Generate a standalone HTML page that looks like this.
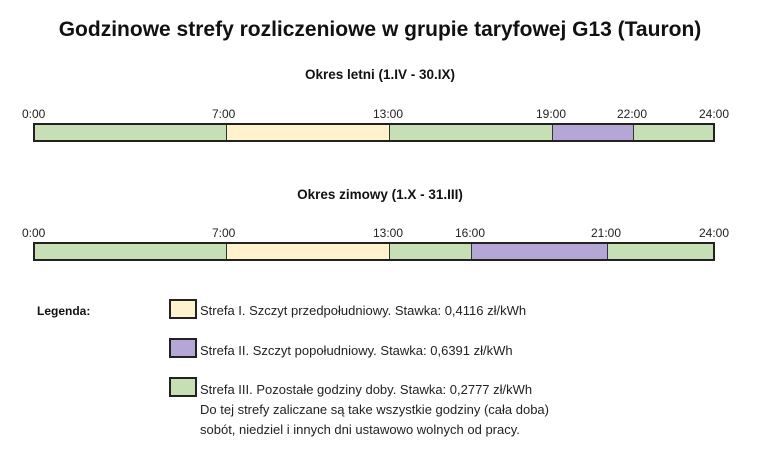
<!DOCTYPE html>
<html><head><meta charset="utf-8"><style>
body{margin:0;width:760px;height:459px;background:#fff;font-family:"Liberation Sans",sans-serif;position:relative;overflow:hidden;color:#111}
.a{position:absolute;white-space:nowrap}
.bar{position:absolute;height:19px;border:2px solid #222;box-sizing:border-box;display:flex;left:33px;width:682px}
.bar div{height:100%;border-right:1px solid #333;box-sizing:border-box}
.bar div:last-child{border-right:none}
.g{background:#c6dfb4}.y{background:#fff2cc}.p{background:#b4a7d6}
.t{font-size:12px;color:#222}
.sq{position:absolute;left:169px;width:28px;height:20px;border:2px solid #222;box-sizing:border-box}
.lt{font-size:13px;color:#222;left:200px}
</style></head><body>
<div class="a" style="left:0;width:760px;text-align:center;top:18px;font-size:21px;font-weight:bold">Godzinowe strefy rozliczeniowe w grupie taryfowej G13 (Tauron)</div>
<div class="a" style="left:0;width:760px;text-align:center;top:67px;font-size:13.5px;font-weight:bold">Okres letni (1.IV - 30.IX)</div>
<div class="a t" style="left:22px;top:107px">0:00</div>
<div class="a t" style="left:212px;top:107px">7:00</div>
<div class="a t" style="left:373px;top:107px">13:00</div>
<div class="a t" style="left:536px;top:107px">19:00</div>
<div class="a t" style="left:617px;top:107px">22:00</div>
<div class="a t" style="left:699px;top:107px">24:00</div>
<div class="bar" style="top:123px"><div class="g" style="width:192px"></div><div class="y" style="width:163px"></div><div class="g" style="width:163px"></div><div class="p" style="width:81px"></div><div class="g" style="flex:1"></div></div>
<div class="a" style="left:0;width:760px;text-align:center;top:187px;font-size:13.5px;font-weight:bold">Okres zimowy (1.X - 31.III)</div>
<div class="a t" style="left:22px;top:226px">0:00</div>
<div class="a t" style="left:212px;top:226px">7:00</div>
<div class="a t" style="left:373px;top:226px">13:00</div>
<div class="a t" style="left:455px;top:226px">16:00</div>
<div class="a t" style="left:591px;top:226px">21:00</div>
<div class="a t" style="left:699px;top:226px">24:00</div>
<div class="bar" style="top:242px"><div class="g" style="width:192px"></div><div class="y" style="width:163px"></div><div class="g" style="width:82px"></div><div class="p" style="width:136px"></div><div class="g" style="flex:1"></div></div>
<div class="a" style="left:37px;top:304px;font-size:12px;font-weight:bold">Legenda:</div>
<div class="sq y" style="top:299px"></div>
<div class="a lt" style="top:303px">Strefa I. Szczyt przedpołudniowy. Stawka: 0,4116 zł/kWh</div>
<div class="sq p" style="top:338px"></div>
<div class="a lt" style="top:343px">Strefa II. Szczyt popołudniowy. Stawka: 0,6391 zł/kWh</div>
<div class="sq g" style="top:377px"></div>
<div class="a lt" style="top:380px;line-height:20px">Strefa III. Pozostałe godziny doby. Stawka: 0,2777 zł/kWh<br>Do tej strefy zaliczane są take wszystkie godziny (cała doba)<br>sobót, niedziel i innych dni ustawowo wolnych od pracy.</div>
</body></html>
